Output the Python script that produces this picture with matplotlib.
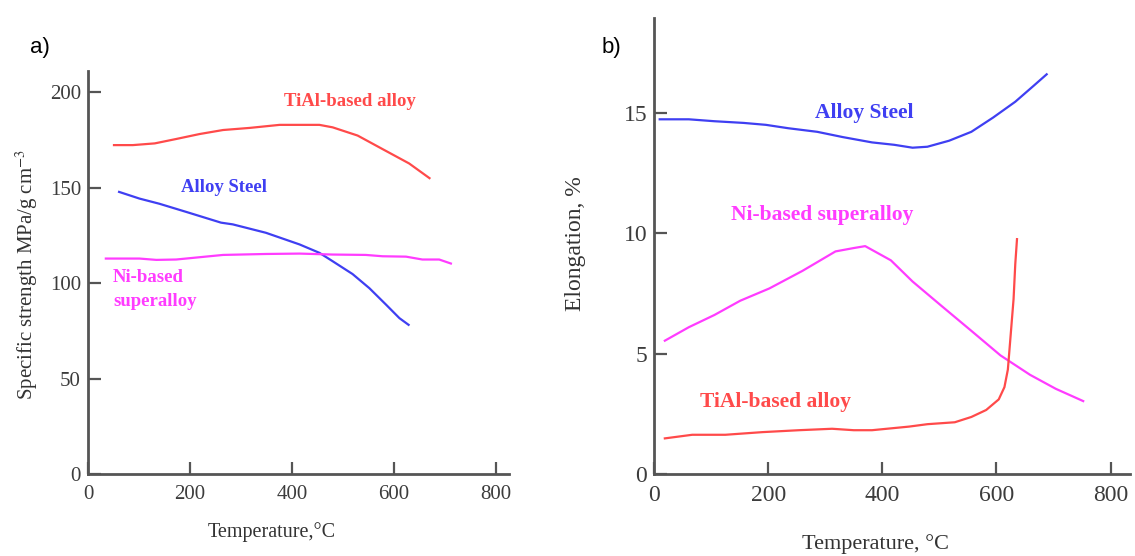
import matplotlib
matplotlib.use("Agg")
import matplotlib.pyplot as plt

plt.rcParams["mathtext.fontset"] = "stix"

# ── data ─────────────────────────────────────────────────────
# a) specific strength, MPa/(g cm^-3)
a_tial_t = [51, 88, 131, 173, 219, 265, 317, 376, 454, 480, 529, 578, 630, 670]
a_tial_s = [172.2, 172.2, 173.1, 175.4, 178.0, 180.1, 181.2, 182.8, 182.8, 181.5, 177.2, 170.1, 162.6, 154.9]
a_steel_t = [61, 101, 140, 193, 261, 284, 349, 415, 454, 480, 519, 552, 585, 611, 629]
a_steel_s = [147.7, 144.2, 141.5, 137.2, 131.6, 130.7, 126.3, 120.2, 115.8, 111.4, 104.7, 97.3, 88.6, 81.6, 78.1]
a_ni_t = [35, 101, 134, 173, 219, 265, 349, 415, 480, 545, 578, 624, 656, 689, 712]
a_ni_s = [112.8, 112.8, 112.1, 112.3, 113.5, 114.7, 115.2, 115.4, 114.9, 114.7, 114.0, 113.8, 112.3, 112.3, 110.2]

# b) elongation, %
b_steel_t = [10, 61, 106, 157, 196, 235, 286, 331, 382, 421, 453, 479, 517, 556, 594, 633, 665, 688]
b_steel_e = [14.74, 14.74, 14.66, 14.59, 14.51, 14.37, 14.22, 14.0, 13.78, 13.68, 13.56, 13.6, 13.85, 14.22, 14.81, 15.47, 16.13, 16.61]
b_ni_t = [19, 61, 106, 151, 202, 260, 318, 350, 370, 415, 453, 504, 556, 607, 659, 704, 752]
b_ni_e = [5.54, 6.1, 6.61, 7.2, 7.71, 8.44, 9.25, 9.39, 9.47, 8.88, 8.0, 6.98, 5.95, 4.93, 4.12, 3.54, 3.03]
b_tial_t = [19, 67, 125, 190, 254, 312, 350, 382, 447, 479, 527, 556, 582, 604, 614, 620, 625, 630, 633, 636]
b_tial_e = [1.48, 1.63, 1.63, 1.74, 1.82, 1.88, 1.82, 1.82, 1.97, 2.07, 2.15, 2.37, 2.66, 3.10, 3.61, 4.34, 5.8, 7.27, 8.73, 9.76]

a_yticks = [0, 50, 100, 150, 200]
b_yticks = [0, 5, 10, 15]
xticks = [0, 200, 400, 600, 800]

RED, BLUE, PINK = "#ff4a4a", "#3f3ff2", "#ff3cff"
SERIF = ["Liberation Serif", "DejaVu Serif"]
W, H = 1135, 556

fig = plt.figure(figsize=(W / 100, H / 100), dpi=100)


def px_axes(l, t, r, b):
    return fig.add_axes([l / W, 1 - b / H, (r - l) / W, (b - t) / H])


def ftext(x, y, s, **kw):
    kw.setdefault("family", SERIF)
    kw.setdefault("ha", "center")
    fig.text(x / W, 1 - y / H, s, va="center", **kw)


def style(ax, lsize):
    for side in ("top", "right"):
        ax.spines[side].set_visible(False)
    for side in ("left", "bottom"):
        ax.spines[side].set_color("#555555")
        ax.spines[side].set_linewidth(2)
    ax.tick_params(direction="in", length=9, width=1.6, color="#555555",
                   labelcolor="#3c3c3c", labelsize=lsize)
    ax.tick_params(axis="x", pad=8)
    ax.tick_params(axis="y", pad=5)
    for lab in ax.get_xticklabels() + ax.get_yticklabels():
        lab.set_family(SERIF)


# ── a) ────────────────────────────────────────────
ax1 = px_axes(88, 71, 509, 474)
ax1.plot(a_tial_t, a_tial_s, color=RED, lw=1.6)
ax1.plot(a_steel_t, a_steel_s, color=BLUE, lw=1.6)
ax1.plot(a_ni_t, a_ni_s, color=PINK, lw=1.6)
ax1.set_xlim(0, 826)
ax1.set_ylim(0, 211)
ax1.set_xticks(xticks)
ax1.set_yticks(a_yticks)
style(ax1, 15)

# ── b) ────────────────────────────────────────────
ax2 = px_axes(654, 18, 1130, 474)
ax2.plot(b_steel_t, b_steel_e, color=BLUE, lw=1.6)
ax2.plot(b_ni_t, b_ni_e, color=PINK, lw=1.6)
ax2.plot(b_tial_t, b_tial_e, color=RED, lw=1.6)
ax2.set_xlim(0, 834)
ax2.set_ylim(0, 18.95)
ax2.set_xticks(xticks)
ax2.set_yticks(b_yticks)
style(ax2, 17)

# ── labels ────────────────────────────────────────
ftext(40, 48, "a)", family=["Liberation Sans", "DejaVu Sans"], fontsize=16)
ftext(611, 48, "b)", family=["Liberation Sans", "DejaVu Sans"], fontsize=16)

ftext(27, 274, "Specific strength MPa/g cm$^{-3}$", fontsize=15, rotation=90, color="#333333")
ftext(272, 532, "Temperature,°C", fontsize=14.5, color="#333333")
ftext(576, 244, "Elongation, %", fontsize=17, rotation=90, color="#333333")
ftext(875, 544, "Temperature, °C", fontsize=16, color="#333333")

ftext(350, 102, "TiAl-based alloy", fontsize=13.5, color=RED, weight="bold")
ftext(224, 188, "Alloy Steel", fontsize=13.5, color=BLUE, weight="bold")
ftext(113, 278, "Ni-based", fontsize=13.5, color=PINK, weight="bold", ha="left")
ftext(113, 302, "superalloy", fontsize=13.5, color=PINK, weight="bold", ha="left")

ftext(864, 113, "Alloy Steel", fontsize=15.5, color=BLUE, weight="bold")
ftext(822, 215, "Ni-based superalloy", fontsize=15.5, color=PINK, weight="bold")
ftext(776, 402, "TiAl-based alloy", fontsize=15.5, color=RED, weight="bold")

fig.savefig("out.png", dpi=100)
